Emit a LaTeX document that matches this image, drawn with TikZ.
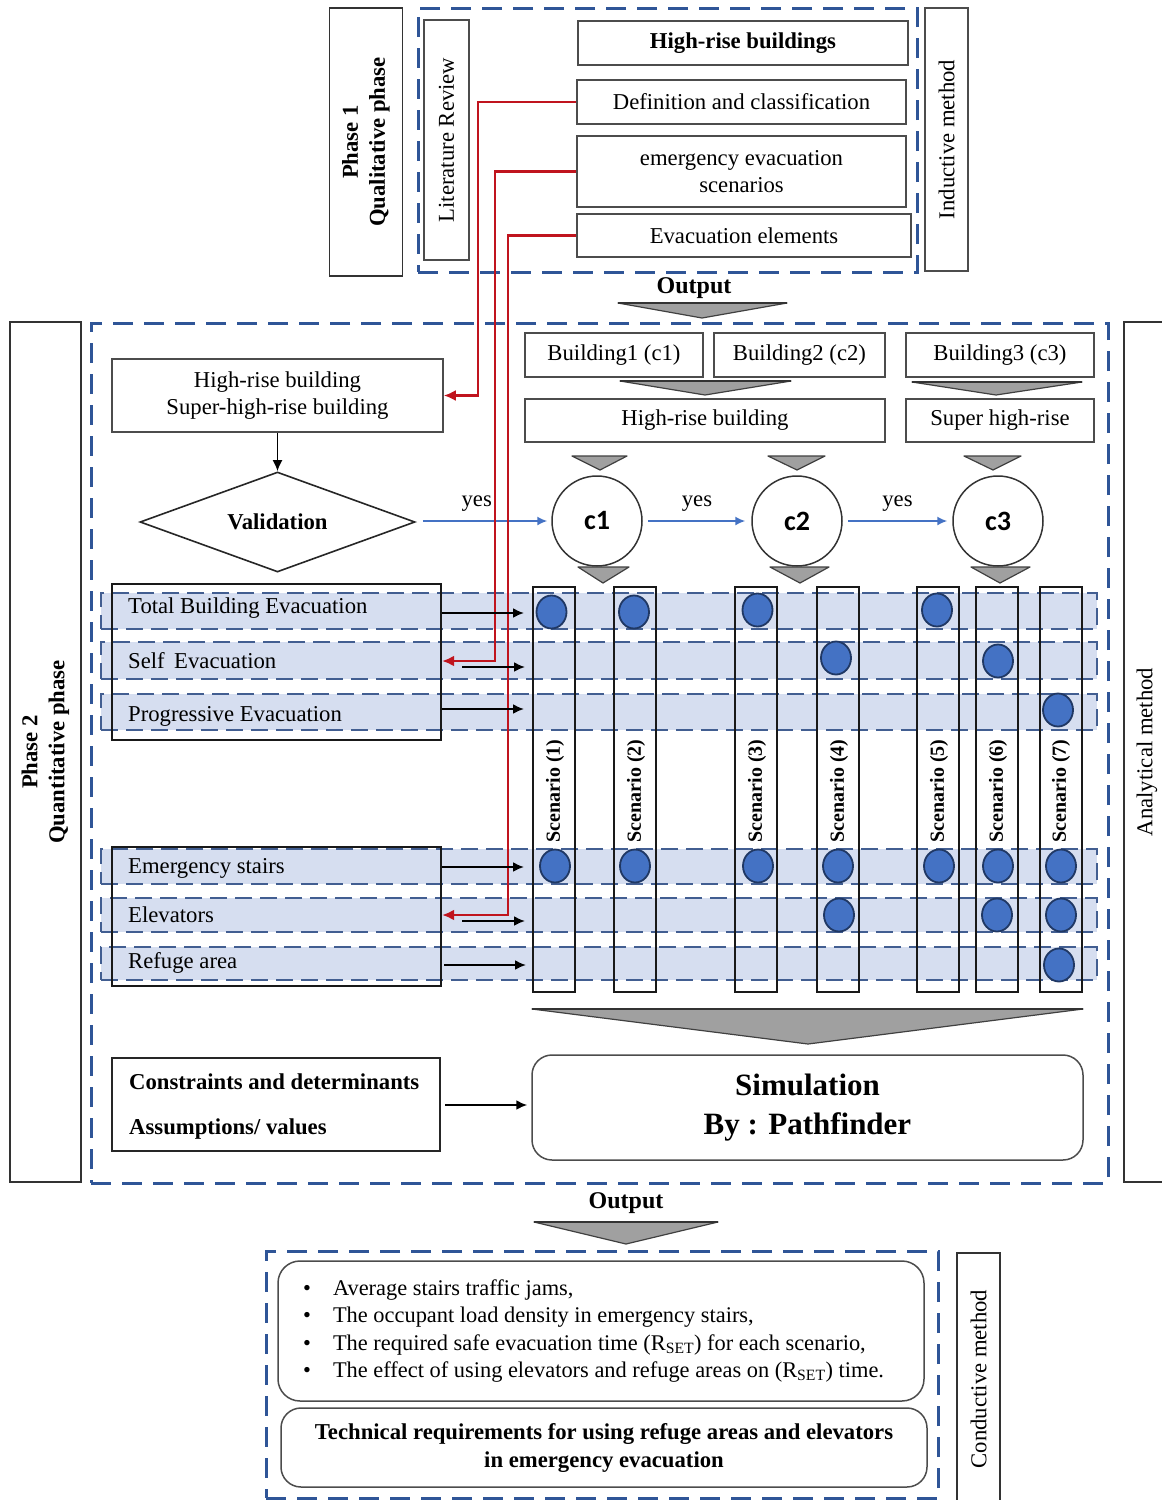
\documentclass[tikz,border=0pt]{standalone}
\usepackage{fontspec}
\setmainfont{Liberation Serif}
\newfontfamily\calib{Carlito}
\usetikzlibrary{shapes.geometric,arrows.meta}
\definecolor{dblue}{RGB}{47,85,151}
\definecolor{bandfill}{RGB}{214,222,240}
\definecolor{bandline}{RGB}{66,94,145}
\definecolor{dotfill}{RGB}{68,114,196}
\definecolor{dotline}{RGB}{32,56,100}
\definecolor{yesblue}{RGB}{68,114,196}
\definecolor{redline}{RGB}{192,20,30}
\definecolor{chevfill}{RGB}{160,160,160}
\newcommand\fsz{\fontsize{22.7}{27}\selectfont}
\newcommand\scfs{\fontsize{20}{24}\selectfont}
\tikzset{
 tbox/.style={draw=black!70, line width=1.5pt, inner sep=0pt, align=center, font=\fsz},
 pbox/.style={draw=black!80, line width=1.7pt, inner sep=0pt, align=center, font=\fsz\bfseries},
 dframe/.style={draw=dblue, line width=3pt, dash pattern=on 20pt off 11pt, inner sep=0pt},
 band/.style={fill=bandfill, draw=bandline, line width=2.4pt, dash pattern=on 17pt off 8pt, inner sep=0pt, minimum width=996pt},
 grp/.style={draw=black!90, line width=2.2pt, inner sep=0pt, minimum width=329pt},
 scol/.style={draw=black!90, line width=2pt, inner sep=0pt, minimum width=42pt, minimum height=405pt},
 sclab/.style={rotate=90, font=\scfs\bfseries, inner sep=0pt},
 bdot/.style={ellipse, fill=dotfill, draw=dotline, line width=1.8pt, minimum width=30pt, minimum height=33pt, inner sep=0pt},
 arr/.style={draw=black, line width=2pt, -{Latex[length=11pt,width=10pt]}},
 redarr/.style={draw=redline, line width=2.4pt, -{Latex[length=12pt,width=11pt]}},
 yesarr/.style={draw=yesblue, line width=1.6pt, -{Latex[length=10pt,width=9pt]}},
 chev/.style={fill=chevfill, draw=black!75, line width=1.2pt, line join=round},
 chevtop/.style={draw=black!80, line width=2.6pt},
 rbox/.style={draw=black!70, line width=1.5pt, rounded corners=20pt, inner sep=0pt, align=center},
 lab/.style={font=\fsz, inner sep=0pt, anchor=west},
 circ/.style={circle, draw=black!80, line width=1.5pt, minimum size=90pt, inner sep=0pt, font=\fontsize{28}{30}\selectfont\calib\bfseries},
 yeslab/.style={font=\fsz, inner sep=0pt},
}
\begin{document}
\begin{tikzpicture}[x=1pt,y=-1pt]
\useasboundingbox (0,0) rectangle (1162,1500);
\fill[white] (0,0) rectangle (1162,1500);

% ---------- Phase 1 ----------
\node[pbox, rotate=90, minimum width=268pt, minimum height=73pt] (ph1) at (366,142) {Phase 1\\Qualitative phase};
\node[dframe, minimum width=499pt, minimum height=264pt] (topframe) at (667.5,140) {};
\node[tbox, rotate=90, minimum width=240pt, minimum height=45pt] (lit) at (446.5,140) {Literature Review};
\node[tbox, minimum width=330pt, minimum height=44pt, font=\fsz\bfseries] (hrb) at (743,43) {High-rise buildings};
\node[tbox, minimum width=329pt, minimum height=44pt] (def) at (741.5,102) {Definition and classification};
\node[tbox, minimum width=329pt, minimum height=71pt] (emg) at (741.5,171.5) {emergency evacuation\\scenarios};
\node[tbox, minimum width=334pt, minimum height=43pt] (evel) at (744,235.5) {Evacuation elements};
\node[tbox, rotate=90, minimum width=263pt, minimum height=43pt] (ind) at (946.5,139.5) {Inductive method};
\node[font=\fontsize{24}{28}\selectfont\bfseries, inner sep=0pt] (out1) at (694,288) {Output};
\draw[chev] (618,303) -- (787,303) -- (702,318) -- cycle;
\draw[chevtop] (618,303) -- (787,303);

% ---------- Phase 2 ----------
\node[pbox, rotate=90, minimum width=860pt, minimum height=71pt] (ph2) at (45.5,752) {Phase 2\\Quantitative phase};
\node[dframe, minimum width=1017pt, minimum height=860pt] (mainframe) at (599.5,753) {};
\node[tbox, rotate=90, minimum width=860pt, minimum height=46pt, draw=black!80] (ana) at (1147,752) {Analytical method};

\node[tbox, minimum width=178pt, minimum height=44pt] (bd1) at (614,355) {Building1 (c1)};
\node[tbox, minimum width=171pt, minimum height=44pt] (bd2) at (799.5,355) {Building2 (c2)};
\node[tbox, minimum width=188pt, minimum height=44pt] (bd3) at (1000,355) {Building3 (c3)};
\draw[chev] (620,381) -- (791,381) -- (705,395) -- cycle;
\draw[chevtop] (620,381) -- (791,381);
\draw[chev] (912,382) -- (1082,382) -- (996,395) -- cycle;
\draw[chevtop] (912,382) -- (1082,382);
\node[tbox, minimum width=360pt, minimum height=43pt] (hrs) at (705,420.5) {High-rise building};
\node[tbox, minimum width=188pt, minimum height=43pt] (shr) at (1000,420.5) {Super high-rise};

\draw[chev] (572,456) -- (627,456) -- (600,470) -- cycle;
\draw[chev] (768,456) -- (825,456) -- (797,470) -- cycle;
\draw[chev] (964,456) -- (1021,456) -- (993,470) -- cycle;

\node[circ] (c1) at (597,521) {c1};
\node[circ] (c2) at (797,521) {c2};
\node[circ] (c3) at (998,521) {c3};

\draw[chev] (578,567) -- (629,567) -- (603,583) -- cycle;
\draw[chev] (770,567) -- (829,567) -- (800,583) -- cycle;
\draw[chev] (971,567) -- (1030,567) -- (1000,583) -- cycle;

\node[tbox, minimum width=331pt, minimum height=73pt] (hr) at (277.5,395.5) {High-rise building\\Super-high-rise building};
\node[diamond, draw=black!85, line width=1.6pt, aspect=2.8, minimum width=275pt, minimum height=100pt, inner sep=0pt, font=\fsz\bfseries] (val) at (277.5,522) {Validation};
\draw[arr, line width=1.6pt] (hr.south) -- (val.north);

\draw[yesarr, shorten <=7pt, shorten >=4pt] (val.east |- c1.west) -- (c1.west) node[yeslab, pos=0.45, above=9pt] (y1) {yes};
\draw[yesarr, shorten <=5pt, shorten >=6pt] (c1.east) -- (c2.west) node[yeslab, midway, above=9pt] (y2) {yes};
\draw[yesarr, shorten <=5pt, shorten >=5pt] (c2.east) -- (c3.west) node[yeslab, midway, above=9pt] (y3) {yes};

% ---------- bands ----------
\node[band, minimum height=36pt] (b1) at (599,611) {};
\node[band, minimum height=37pt] (b2) at (599,660.5) {};
\node[band, minimum height=36pt] (b3) at (599,712) {};
\node[band, minimum height=35pt] (b4) at (599,866.5) {};
\node[band, minimum height=34pt] (b5) at (599,915) {};
\node[band, minimum height=33pt] (b6) at (599,963.5) {};

\node[grp, minimum height=156pt] (g1) at (276.5,662) {};
\node[grp, minimum height=139pt] (g2) at (276.5,916.5) {};

\node[lab] (l1) at (128,608) {Total Building Evacuation};
\node[lab] (l2) at (128,661) {Self\, Evacuation};
\node[lab] (l3) at (128,716) {Progressive Evacuation};
\node[lab] (l4) at (128,868) {Emergency stairs};
\node[lab] (l5) at (128,915) {Elevators};
\node[lab] (l6) at (128,963) {Refuge area};

% ---------- scenario columns ----------
\node[scol] (s1) at (554,789.5) {};
\node[scol] (s2) at (635,789.5) {};
\node[scol] (s3) at (756,789.5) {};
\node[scol] (s4) at (838,789.5) {};
\node[scol] (s5) at (938,789.5) {};
\node[scol] (s6) at (997,789.5) {};
\node[scol] (s7) at (1060.5,789.5) {};
\node[sclab] (t1) at (555,791) {Scenario (1)};
\node[sclab] (t2) at (636,791) {Scenario (2)};
\node[sclab] (t3) at (757,791) {Scenario (3)};
\node[sclab] (t4) at (839,791) {Scenario (4)};
\node[sclab] (t5) at (939,791) {Scenario (5)};
\node[sclab] (t6) at (998,791) {Scenario (6)};
\node[sclab] (t7) at (1061,791) {Scenario (7)};

% ---------- dots ----------
\node[bdot] (d11) at (551.5,612) {};
\node[bdot] (d12) at (634,612) {};
\node[bdot] (d13) at (757.5,610) {};
\node[bdot] (d15) at (937,610) {};
\node[bdot] (d24) at (836,658) {};
\node[bdot] (d26) at (998,661) {};
\node[bdot] (d37) at (1058,710) {};
\node[bdot] (d41) at (555,866) {};
\node[bdot] (d42) at (635,866) {};
\node[bdot] (d43) at (758,866) {};
\node[bdot] (d44) at (838,866) {};
\node[bdot] (d45) at (939,866) {};
\node[bdot] (d46) at (998,866) {};
\node[bdot] (d47) at (1061,866) {};
\node[bdot] (d54) at (839,915) {};
\node[bdot] (d56) at (997,915) {};
\node[bdot] (d57) at (1061,915) {};
\node[bdot] (d67) at (1059,965) {};

% ---------- red connectors ----------
\coordinate (r1) at (478,395.5);
\coordinate (r2) at (495,661);
\coordinate (r3) at (508,915);
\draw[redarr] (def.west) -| (r1) -- (hr.east);
\draw[redarr] (emg.west) -| (r2) -- (g1.east |- r2);
\draw[redarr] (evel.west) -| (r3) -- (g2.east |- r3);

% ---------- black arrows ----------
\coordinate (a2) at (462,667);
\coordinate (a5) at (462,921);
\coordinate (a6) at (444,965);
\draw[arr] (g1.east |- 0,613) -- ([xshift=-8pt]s1.west |- 0,613);
\draw[arr] (a2) -- ([xshift=-7pt]s1.west |- a2);
\draw[arr] (g1.east |- 0,709) -- ([xshift=-8pt]s1.west |- 0,709);
\draw[arr] (g2.east |- 0,867) -- ([xshift=-8pt]s1.west |- 0,867);
\draw[arr] (a5) -- ([xshift=-7pt]s1.west |- a5);
\draw[arr] (a6) -- ([xshift=-6pt]s1.west |- a6);

% ---------- simulation ----------
\draw[chev] (532,1009) -- (1083,1009) -- (808,1044) -- cycle;
\draw[chevtop] (532,1009) -- (1083,1009);
\node[rbox, minimum width=551pt, minimum height=105pt, font=\fontsize{31}{39}\selectfont\bfseries] (sim) at (807.5,1107.5) {Simulation\\By : Pathfinder};
\node[grp, draw=black!85, minimum width=328pt, minimum height=93pt] (cons) at (276,1104.5) {};
\node[lab, font=\fsz\bfseries] (ct1) at (129,1082) {Constraints and determinants};
\node[lab, font=\fsz\bfseries] (ct2) at (129,1129) {Assumptions/ values};
\draw[arr] ([xshift=4pt]cons.east |- 0,1105) -- ([xshift=-4pt]sim.west |- 0,1105);

% ---------- output ----------
\node[font=\fontsize{24}{28}\selectfont\bfseries, inner sep=0pt] (out2) at (626,1203) {Output};
\draw[chev] (534,1222) -- (718,1222) -- (626,1244) -- cycle;
\draw[chevtop] (534,1222) -- (718,1222);
\node[dframe, minimum width=672pt, minimum height=247pt] (botframe) at (602,1374.5) {};
\node[tbox, rotate=90, minimum width=252pt, minimum height=43pt, draw=black!80] (cond) at (978.5,1379) {Conductive method};
\node[rbox, minimum width=646pt, minimum height=140pt, rounded corners=22pt] (bulbox) at (601,1331) {};
\node[anchor=west, inner sep=0pt, font=\fontsize{22.4}{27.4}\selectfont, align=left] (bul) at (303,1331) {\begin{tabular}{@{}l@{\hspace{22pt}}l@{}}
\textbullet & Average stairs traffic jams,\\
\textbullet & The occupant load density in emergency stairs,\\
\textbullet & The required safe evacuation time (R\textsubscript{SET}) for each scenario,\\
\textbullet & The effect of using elevators and refuge areas on (R\textsubscript{SET}) time.
\end{tabular}};
\node[rbox, minimum width=646pt, minimum height=79pt, font=\fontsize{22.7}{28}\selectfont\bfseries] (tech) at (604,1447.5) {Technical requirements for using refuge areas and elevators\\in emergency evacuation};
\end{tikzpicture}
\end{document}
